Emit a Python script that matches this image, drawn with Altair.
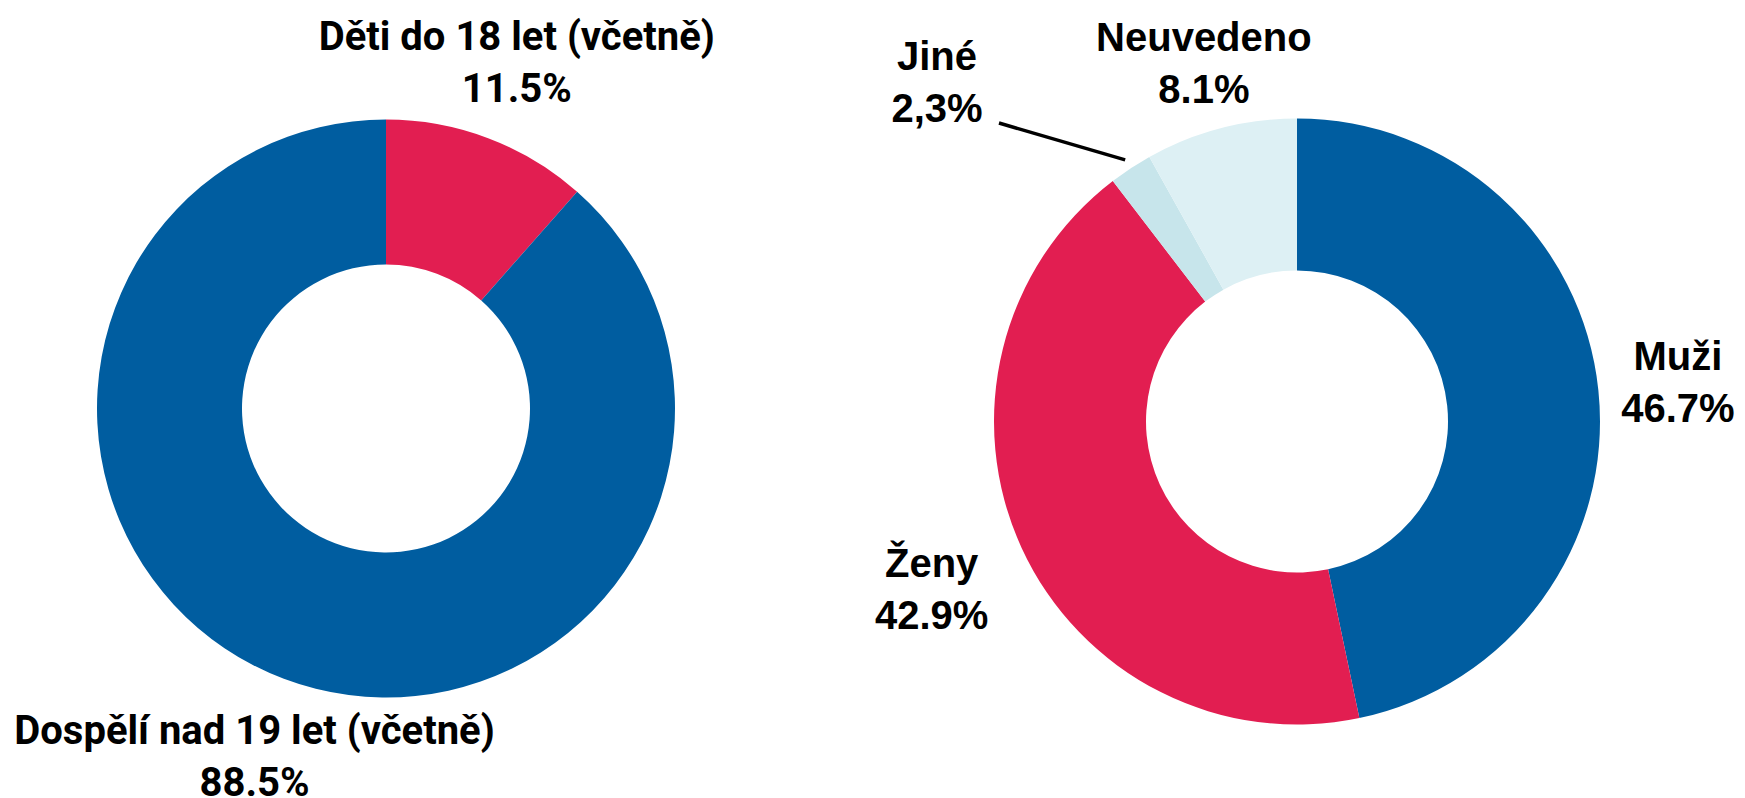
import math
import altair as alt
import pandas as pd

# ---------------- data ----------------
age_cats = ["Děti do 18 let (včetně)", "Dospělí nad 19 let (včetně)"]
age_vals = [11.5, 88.5]
age_pct = ["11.5%", "88.5%"]

gender_cats = ["Muži", "Ženy", "Jiné", "Neuvedeno"]
gender_vals = [46.7, 42.9, 2.3, 8.1]
gender_pct = ["46.7%", "42.9%", "2,3%", "8.1%"]

# ---------------- style / layout ----------------
all_cats = age_cats + gender_cats
all_colors = ["#E21E51", "#005DA0", "#005DA0", "#E21E51", "#C7E5EB", "#DDF0F4"]

W, H = 1729, 790
L_CX, L_CY, L_R, L_IR = 378, 400.5, 289, 144
R_CX, R_CY, R_R, R_IR = 1289, 413.5, 303, 151
left_label_r = {"Děti do 18 let (včetně)": 370, "Dospělí nad 19 let (včetně)": 372}
right_label_r = {"Muži": 383, "Ženy": 402, "Jiné": 0, "Neuvedeno": 370}
NAME_DY, PCT_DY = -24, 28
FONT_L = "Roboto"
FONT_R = "Liberation Sans"
FS = 40


def table(cats, vals, pcts, radii):
    return pd.DataFrame({
        "cat": cats,
        "value": vals,
        "pct": pcts,
        "idx": list(range(len(cats))),
        "lr": [radii[c] for c in cats],
    })


age_df = table(age_cats, age_vals, age_pct, left_label_r)
gen_df = table(gender_cats, gender_vals, gender_pct, right_label_r)

color = alt.Color("cat:N", scale=alt.Scale(domain=all_cats, range=all_colors), legend=None)


def donut(df, cx, cy, r, ir, font, hide=None):
    total = float(sum(df["value"]))
    sc = alt.Scale(domain=[0, total])
    base = alt.Chart(df).transform_window(
        cum="sum(value)", sort=[alt.SortField("idx", order="ascending")],
        frame=[None, 0],
    ).transform_calculate(
        start="datum.cum - datum.value",
        mid="datum.cum - datum.value / 2",
    )
    arc = base.mark_arc(outerRadius=r, innerRadius=ir, stroke=None).encode(
        theta=alt.Theta("start:Q", scale=sc, stack=False),
        theta2="cum:Q",
        color=color,
        x=alt.value(cx), y=alt.value(cy),
    )
    op = alt.value(1)
    if hide is not None:
        op = alt.condition(f"datum.cat === '{hide}'", alt.value(0), alt.value(1))
    tbase = base.encode(
        theta=alt.Theta("mid:Q", scale=sc, stack=False),
        radius=alt.Radius("lr:Q", scale=None),
        x=alt.value(cx), y=alt.value(cy), opacity=op,
    )
    name = tbase.mark_text(font=font, fontSize=FS, fontWeight="bold", color="#000000",
                           align="center", baseline="middle", dy=NAME_DY).encode(text="cat:N")
    pct = tbase.mark_text(font=font, fontSize=FS, fontWeight="bold", color="#000000",
                          align="center", baseline="middle", dy=PCT_DY).encode(text="pct:N")
    return [arc, name, pct]


left = alt.layer(*donut(age_df, L_CX, L_CY, L_R, L_IR, FONT_L))
right_layers = donut(gen_df, R_CX, R_CY, R_R, R_IR, FONT_R, hide="Jiné")

# "Jiné" label placed outside with a leader line
jine_df = gen_df[gen_df["cat"] == "Jiné"]
JX, JY = 929, 74
right_layers.append(alt.Chart(jine_df).mark_text(font=FONT_R, fontSize=FS, fontWeight="bold", color="#000000",
                                                 align="center", baseline="middle", dy=NAME_DY)
                    .encode(text="cat:N", x=alt.value(JX), y=alt.value(JY)))
right_layers.append(alt.Chart(jine_df).mark_text(font=FONT_R, fontSize=FS, fontWeight="bold", color="#000000",
                                                 align="center", baseline="middle", dy=PCT_DY)
                    .encode(text="pct:N", x=alt.value(JX), y=alt.value(JY)))

i = gender_cats.index("Jiné")
mid = (sum(gender_vals[:i]) + gender_vals[i] / 2) / sum(gender_vals) * 2 * math.pi
end_r = R_R + 10
ex = R_CX + end_r * math.sin(mid)
ey = R_CY - end_r * math.cos(mid)
right_layers.append(alt.Chart(jine_df).mark_rule(color="#000000", strokeWidth=3.5).encode(
    x=alt.value(991), y=alt.value(115), x2=alt.value(ex), y2=alt.value(ey)))

right = alt.layer(*right_layers)

chart = alt.layer(left, right).resolve_scale(theta="independent").properties(
    width=W, height=H, autosize=alt.AutoSizeParams(type="none"), padding=0
).configure_view(stroke=None)

chart.save("out.html", embed_options={"renderer": "svg", "actions": False})
